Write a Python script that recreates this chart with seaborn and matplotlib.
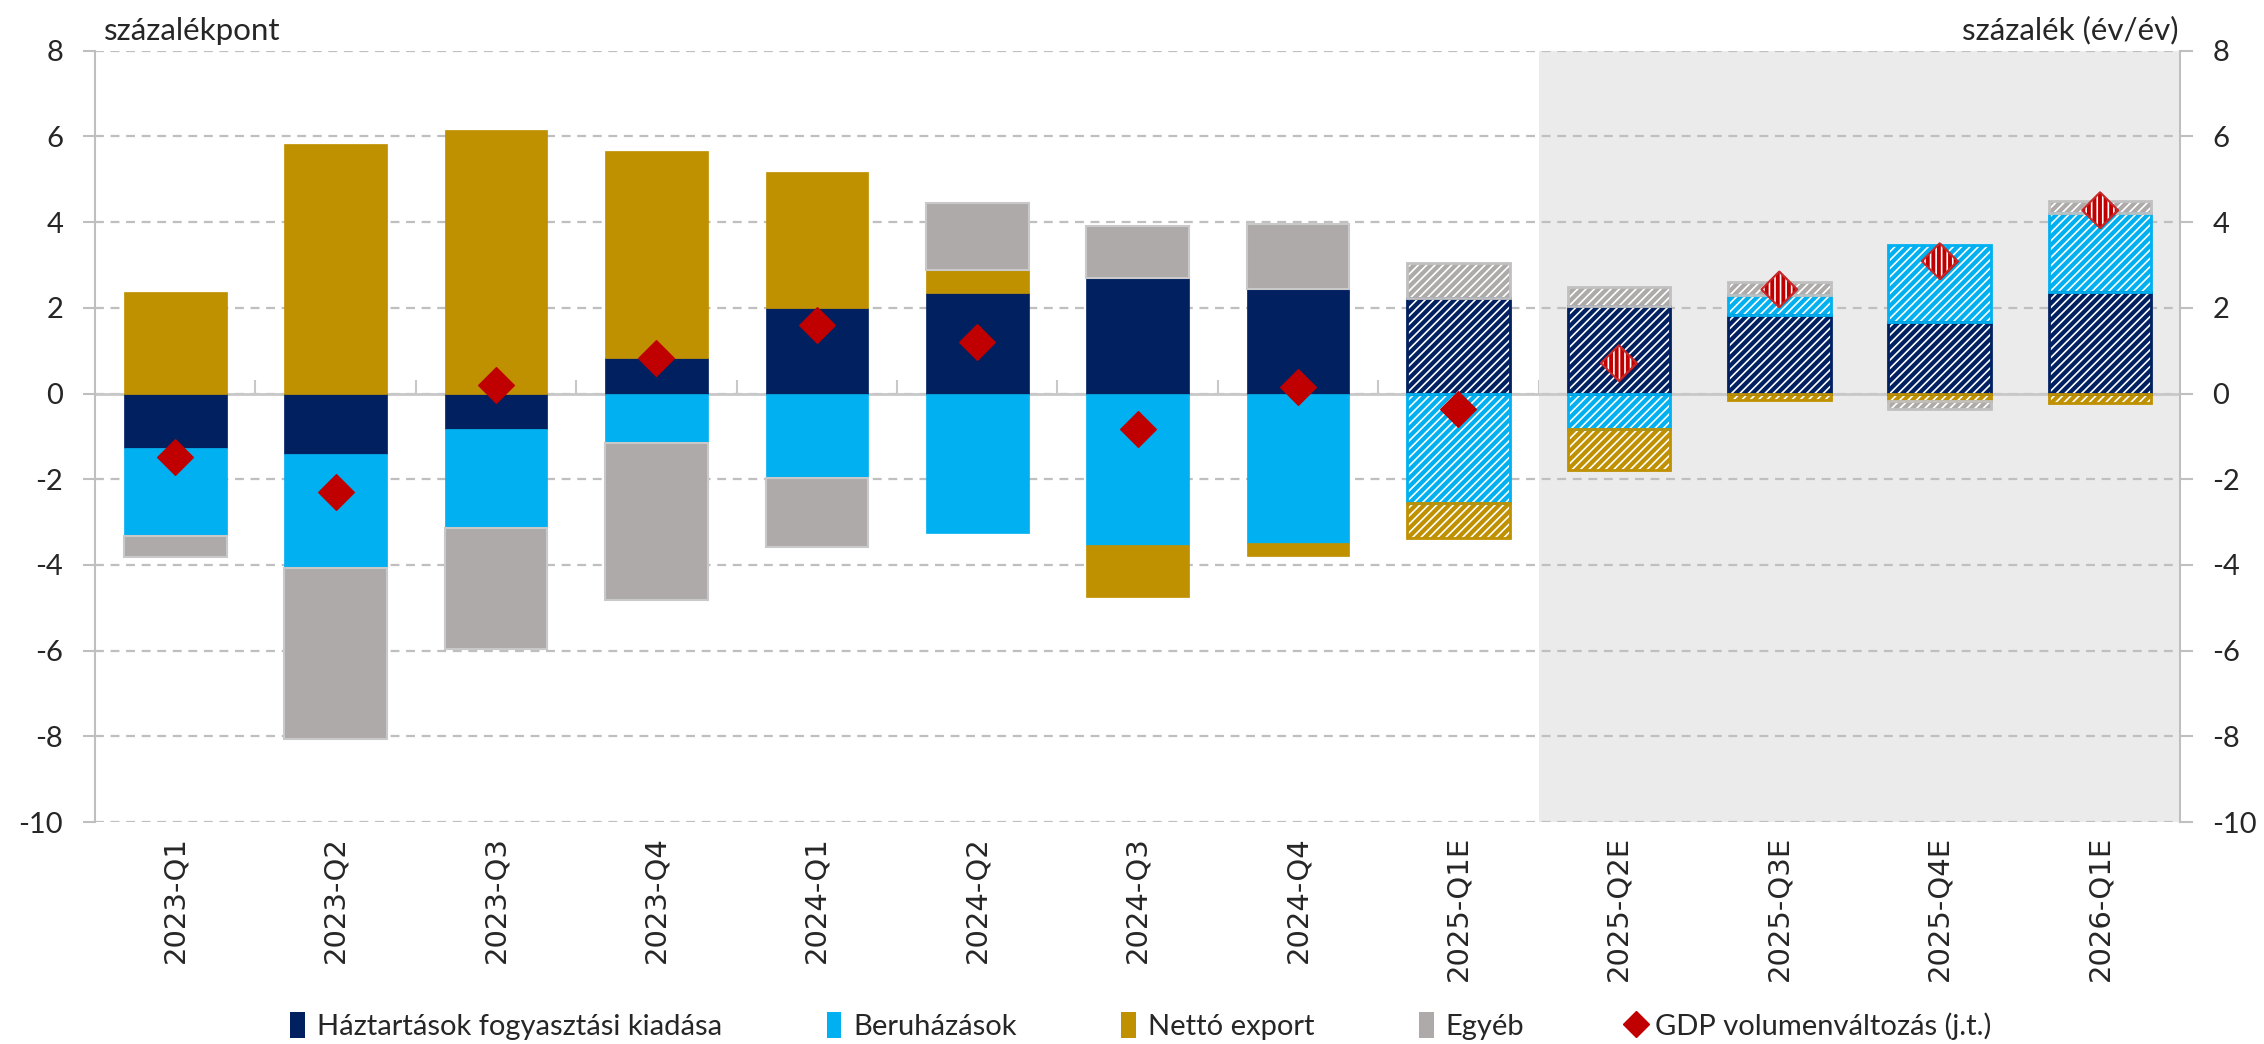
import numpy as np
import matplotlib
matplotlib.use("Agg")
import matplotlib.pyplot as plt
import seaborn as sns
from matplotlib.patches import Patch
from matplotlib.lines import Line2D

# ---------------- data ----------------
quarters = ["2023-Q1", "2023-Q2", "2023-Q3", "2023-Q4", "2024-Q1", "2024-Q2",
            "2024-Q3", "2024-Q4", "2025-Q1E", "2025-Q2E", "2025-Q3E", "2025-Q4E",
            "2026-Q1E"]
haztartas = [-1.27, -1.42, -0.83, 0.83, 2.00, 2.34, 2.69, 2.44, 2.23, 2.04, 1.83, 1.66, 2.37]
beruhazas = [-2.05, -2.66, -2.31, -1.16, -1.98, -3.26, -3.53, -3.48, -2.55, -0.83, 0.47, 1.80, 1.84]
netto_export = [2.36, 5.82, 6.16, 4.82, 3.17, 0.55, -1.22, -0.32, -0.83, -0.96, -0.16, -0.17, -0.22]
egyeb = [-0.50, -3.99, -2.81, -3.66, -1.61, 1.56, 1.21, 1.51, 0.82, 0.44, 0.30, -0.20, 0.28]
gdp = [-1.48, -2.29, 0.20, 0.82, 1.59, 1.21, -0.82, 0.15, -0.37, 0.71, 2.43, 3.09, 4.28]

series_labels = ["Háztartások fogyasztási kiadása", "Beruházások", "Nettó export", "Egyéb"]
gdp_label = "GDP volumenváltozás (j.t.)"
y_ticks = [-10, -8, -6, -4, -2, 0, 2, 4, 6, 8]
left_unit = "százalékpont"
right_unit = "százalék (év/év)"

first_hatched_bar = 8      # 2025-Q1E onwards hatched bars
first_hatched_point = 9    # 2025-Q2E onwards hatched diamonds

# ---------------- style ----------------
colors = ["#002060", "#00B0F0", "#BF9000", "#AEAAAA"]
edge_hist = [None, None, None, "#C9C9C9"]
grid_col = "#BFBFBF"
red = "#C00000"

sns.set_theme(style="white")
plt.rcParams["font.family"] = ["DejaVu Sans"]
plt.rcParams["xtick.labelsize"] = 21
plt.rcParams["ytick.labelsize"] = 21
plt.rcParams["axes.unicode_minus"] = False
plt.rcParams["hatch.linewidth"] = 1.2
plt.rcParams["hatch.color"] = "white"
LATO = ["Lato", "DejaVu Sans"]

fig = plt.figure(figsize=(22.64, 10.44), dpi=100)
ax = fig.add_axes([0.042, 0.2126, 0.921, 0.7388])

n = len(quarters)
x = np.arange(n)
w = 0.64

ax.axvspan(8.5, 12.5, color="#EBEBEB", zorder=0.1, lw=0)

pos = np.zeros(n)
neg = np.zeros(n)
h = first_hatched_bar
for vals, col, ec in zip([haztartas, beruhazas, netto_export, egyeb], colors, edge_hist):
    v = np.array(vals, dtype=float)
    bottom = np.where(v >= 0, pos, neg)
    ax.bar(x[:h], v[:h], bottom=bottom[:h], width=w, color=col,
           edgecolor=ec if ec else col, linewidth=1.5 if ec else 0.5, zorder=2)
    ax.bar(x[h:], v[h:], bottom=bottom[h:], width=w, color=col,
           edgecolor="white", hatch="////", linewidth=0, zorder=2)
    ax.bar(x[h:], v[h:], bottom=bottom[h:], width=w, fill=False,
           edgecolor=col if col != "#AEAAAA" else "#C0C0C0", linewidth=2, zorder=3)
    pos += np.where(v >= 0, v, 0)
    neg += np.where(v < 0, v, 0)

ax.set_xlim(-0.5, n - 0.5)
ax.set_ylim(-10, 8)
ax.set_axisbelow(True)
ax.yaxis.grid(True, linestyle=(0, (4, 3)), color=grid_col, linewidth=1.6, zorder=0.5)
ax.xaxis.grid(False)
ax.axhline(0, color="#C8C8C8", linewidth=2, zorder=1.5)
for s in ["top", "bottom"]:
    ax.spines[s].set_visible(False)
for s in ["left", "right"]:
    ax.spines[s].set_color(grid_col)
    ax.spines[s].set_linewidth(1.5)

# category boundary ticks on the zero line
sec = ax.secondary_xaxis(10 / 18)
sec.set_xticks(np.arange(0.5, n - 1, 1.0))
sec.tick_params(axis="x", length=10, width=1.5, color="#C8C8C8", direction="out",
                labelbottom=False, labeltop=False)
sec.spines["bottom"].set_visible(False)
sec.spines["top"].set_visible(False)

ax2 = ax.twinx()
for s in ax2.spines.values():
    s.set_visible(False)

sns.scatterplot(x=x, y=gdp, ax=ax2, marker="D", s=330, color=red,
                edgecolor=red, linewidth=1, zorder=5)
p = first_hatched_point
ax2.scatter(x[p:], gdp[p:], marker="D", s=330, facecolor="none", edgecolor="white",
            hatch="|||", linewidth=0, zorder=6)
ax2.scatter(x[p:], gdp[p:], marker="D", s=330, facecolor="none", edgecolor="#C82828",
            linewidth=1.5, zorder=7)
ax2.set_xlabel("")
ax2.set_ylabel("")
ax.set_xlabel("")
ax.set_ylabel("")

# ticks (set after all plotting)
ax2.xaxis.set_visible(False)
ax.set_xlim(-0.5, n - 0.5)
ax.set_xticks(x, labels=quarters, rotation=90)
ax.tick_params(axis="x", length=0, pad=10)
for a in (ax, ax2):
    a.set_ylim(-10, 8)
    a.set_yticks(y_ticks)
    a.set_yticklabels([str(t) for t in y_ticks], fontfamily=LATO)
    a.tick_params(axis="y", length=9, width=1.5, color=grid_col, pad=14)

ax.text(0.004, 1.008, left_unit, transform=ax.transAxes, ha="left", va="bottom",
        fontsize=22.5, family=LATO)
ax.text(0.999, 1.008, right_unit, transform=ax.transAxes, ha="right", va="bottom",
        fontsize=22.5, family=LATO)

handles = [Patch(facecolor=c, edgecolor="none") for c in colors]
handles.append(Line2D([], [], marker="D", linestyle="none", color=red, markersize=13))
fig.legend(handles, series_labels + [gdp_label], loc="center", bbox_to_anchor=(0.504, 0.017),
           ncol=5, frameon=False, prop={"family": LATO, "size": 21}, handlelength=0.5,
           handleheight=1.0, handletextpad=0.4, columnspacing=3.6)

fig.savefig("out.png", dpi=100)
